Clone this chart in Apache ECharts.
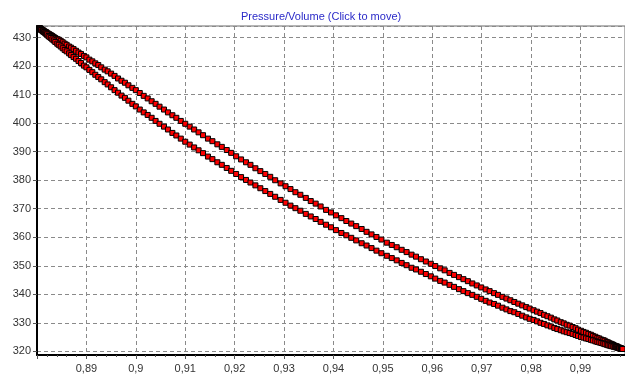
<!DOCTYPE html>
<html lang="en">
<head>
  <meta charset="UTF-8">
  <script src="https://cdn.jsdelivr.net/npm/echarts/dist/echarts.min.js"></script>
</head>
<body style="margin:0;background:#fff;">
<div id="main" style="width:625px;height:379px;"></div>

<script>
  // volume (x) shared by both branches of the loop
  var vol = [
    .8805,.8805,.8805,.8806,.8806,.8807,.8808,.8809,.8811,.8812,
    .8814,.8816,.8818,.8820,.8823,.8825,.8828,.8831,.8834,.8837,
    .8841,.8844,.8848,.8852,.8856,.8860,.8865,.8869,.8874,.8879,
    .8884,.8889,.8895,.8900,.8906,.8912,.8918,.8924,.8930,.8937,
    .8943,.8950,.8957,.8964,.8971,.8978,.8985,.8993,.9000,.9008,
    .9016,.9024,.9032,.9040,.9048,.9057,.9065,.9074,.9082,.9091,
    .9100,.9109,.9118,.9127,.9136,.9146,.9155,.9165,.9174,.9184,
    .9193,.9203,.9213,.9223,.9232,.9242,.9252,.9262,.9272,.9282,
    .9293,.9303,.9313,.9323,.9333,.9344,.9354,.9364,.9374,.9385,
    .9395,.9405,.9416,.9426,.9436,.9446,.9457,.9467,.9477,.9487,
    .9497,.9508,.9518,.9528,.9538,.9548,.9558,.9567,.9577,.9587,
    .9597,.9606,.9616,.9625,.9635,.9644,.9654,.9663,.9672,.9681,
    .9690,.9699,.9708,.9716,.9725,.9733,.9742,.9750,.9758,.9766,
    .9774,.9782,.9790,.9797,.9805,.9812,.9819,.9826,.9833,.9840,
    .9847,.9853,.9860,.9866,.9872,.9878,.9884,.9890,.9895,.9901,
    .9906,.9911,.9916,.9921,.9925,.9930,.9934,.9938,.9942,.9946,
    .9949,.9953,.9956,.9959,.9962,.9965,.9967,.9970,.9972,.9974,
    .9976,.9978,.9979,.9981,.9982,.9983,.9984,.9984,.9985,.9985,
    .9985
  ];

  // pressure on the upper branch
  var pUp = [
    433.3,433.3,433.3,433.2,433.2,433.0,433.0,432.9,432.6,432.6,
    432.4,432.1,432.0,431.7,431.4,431.2,430.9,430.6,430.2,429.9,
    429.5,429.3,428.9,428.4,427.9,427.5,426.9,426.5,426.0,425.4,
    424.8,424.3,423.6,423.1,422.3,421.7,421.0,420.4,419.6,418.8,
    418.2,417.4,416.6,415.7,414.9,414.2,413.3,412.4,411.6,410.6,
    409.6,408.7,407.7,406.8,405.8,404.8,403.8,402.8,401.9,400.8,
    399.8,398.8,397.8,396.8,395.8,394.6,393.7,392.6,391.7,390.6,
    389.6,388.4,387.3,386.3,385.4,384.2,383.2,382.2,381.2,380.0,
    378.9,377.9,376.9,375.8,374.9,373.8,372.7,371.8,370.8,369.6,
    368.7,367.7,366.7,365.7,364.8,363.9,362.9,361.9,361.0,360.1,
    359.2,358.1,357.3,356.5,355.6,354.8,353.9,353.2,352.3,351.5,
    350.7,349.9,349.1,348.4,347.5,346.8,346.0,345.3,344.6,343.8,
    343.1,342.4,341.7,341.1,340.4,339.8,339.1,338.5,337.9,337.3,
    336.7,336.1,335.5,335.0,334.4,333.9,333.4,332.8,332.3,331.8,
    331.2,330.8,330.2,329.8,329.3,329.0,328.5,328.1,327.6,327.2,
    326.8,326.5,326.1,325.8,325.4,325.1,324.7,324.5,324.1,323.9,
    323.7,323.3,323.1,322.8,322.6,322.4,322.2,321.9,321.8,321.7,
    321.4,321.3,321.2,321.1,321.0,320.9,320.8,320.8,320.8,320.8,
    320.8
  ];

  // pressure on the lower branch
  var pLow = [
    433.3,433.3,433.3,433.2,433.2,433.0,432.8,432.7,432.4,432.2,
    432.0,431.7,431.4,431.1,430.6,430.3,429.9,429.4,429.0,428.5,
    427.9,427.5,426.9,426.3,425.7,425.2,424.5,423.9,423.2,422.6,
    421.8,421.1,420.2,419.6,418.7,417.9,417.0,416.2,415.4,414.4,
    413.6,412.6,411.6,410.7,409.7,408.9,407.9,406.8,405.9,404.8,
    403.8,402.9,401.9,400.8,399.8,398.8,397.8,396.6,395.7,394.6,
    393.5,392.5,391.5,390.5,389.5,388.3,387.4,386.3,385.4,384.3,
    383.3,382.2,381.1,380.1,379.2,378.2,377.2,376.2,375.2,374.2,
    373.1,372.1,371.1,370.2,369.3,368.2,367.3,366.4,365.4,364.4,
    363.5,362.5,361.5,360.7,359.8,358.9,357.9,357.1,356.2,355.3,
    354.4,353.5,352.7,351.9,351.0,350.2,349.3,348.7,347.9,347.1,
    346.3,345.5,344.7,344.1,343.3,342.6,341.8,341.1,340.4,339.8,
    339.1,338.4,337.7,337.1,336.6,336.0,335.3,334.7,334.1,333.7,
    333.1,332.5,331.9,331.4,331.0,330.5,330.0,329.6,329.1,328.7,
    328.2,327.8,327.4,327.0,326.7,326.4,326.1,325.7,325.4,325.0,
    324.8,324.5,324.3,324.0,323.8,323.5,323.3,323.1,322.9,322.7,
    322.5,322.3,322.1,322.0,321.8,321.8,321.6,321.5,321.4,321.3,
    321.2,321.1,321.0,320.9,320.9,320.9,320.8,320.8,320.8,320.8,
    320.8
  ];

  var main = echarts.init(document.querySelector('#main'));

  var upData = [], lowData = [];
  for (var i = 0; i < vol.length; i++) {
    upData.push([vol[i], pUp[i]]);
    lowData.push([vol[i], pLow[i]]);
  }

  var labelFont = {color:'#333', fontSize:11, fontFamily:'Liberation Sans, Arial'};
  var gridLine = {show:true, lineStyle:{color:'#8a8a8a', type:[4,3], width:1}};
  var marks = {
    type:'line',
    symbol:'rect',
    symbolSize:5,
    lineStyle:{color:'#000', width:1.5},
    itemStyle:{color:'#ff0000', borderColor:'#000', borderWidth:1},
    z:3
  };

  main.setOption({
    animation:false,
    backgroundColor:'#fff',
    title:{
      text:'Pressure/Volume (Click to move)',
      left:236, top:6,
      textStyle:{color:'#2a2ac8', fontSize:11, fontWeight:'normal', fontFamily:'Liberation Sans, Arial'}
    },
    grid:{left:37, right:0, top:26, bottom:24, show:true, borderColor:'#6a6a6a', borderWidth:1},
    xAxis:{
      type:'value', min:0.88, max:0.999, interval:0.01,
      axisLine:{lineStyle:{color:'#000', width:2}},
      axisTick:{show:true, length:4, lineStyle:{color:'#555'}},
      minorTick:{show:true, splitNumber:5, length:2, lineStyle:{color:'#555'}},
      axisLabel:Object.assign({margin:8, showMinLabel:false, showMaxLabel:false,
        formatter:function(v){ return String(+v.toFixed(2)).replace('.', ','); }}, labelFont),
      splitLine:gridLine
    },
    yAxis:{
      type:'value', min:318.7, max:434.1, splitNumber:10,
      axisLine:{show:true, lineStyle:{color:'#000', width:2}},
      axisTick:{show:true, length:4, lineStyle:{color:'#555'}},
      axisLabel:Object.assign({margin:6, showMinLabel:false, showMaxLabel:false}, labelFont),
      splitLine:gridLine
    },
    series:[
      Object.assign({name:'up', data:upData}, marks),
      Object.assign({name:'low', data:lowData}, marks)
    ]
  });
</script>
</body>
</html>
